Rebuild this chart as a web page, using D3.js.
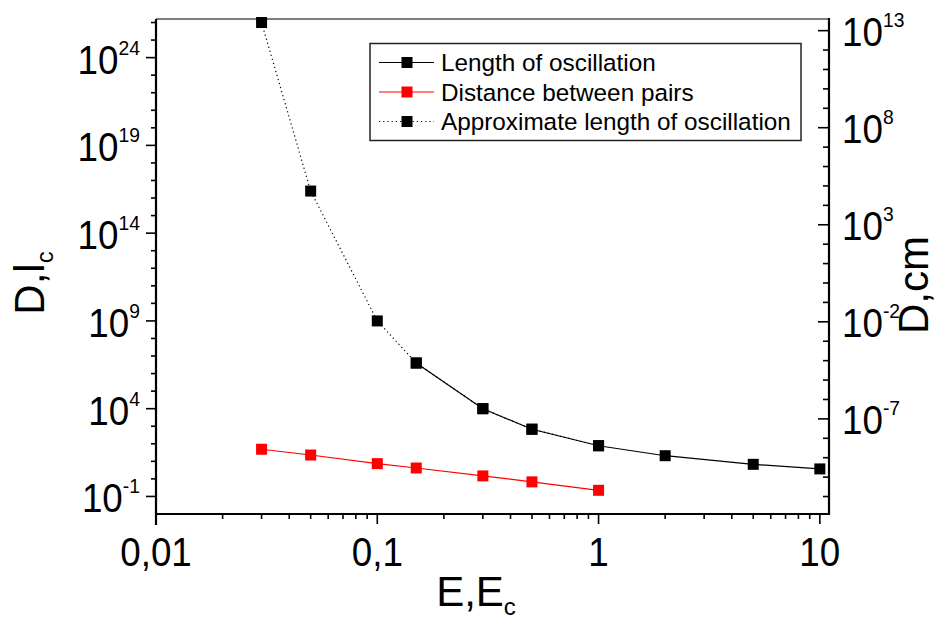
<!DOCTYPE html>
<html>
<head>
<meta charset="utf-8">
<script src="https://cdn.jsdelivr.net/npm/d3@7"></script>
<style>
  html, body { margin: 0; padding: 0; background: #fff; }
  svg text { font-family: Arial, "Liberation Sans", sans-serif; fill: #000; }
</style>
</head>
<body>
<svg id="chart" width="951" height="620"></svg>
<script>
// ---- data ----
const lengthE = [0.15, 0.3, 0.5, 1, 2, 5, 10];
const lengthD = [4.0e6, 1.0e4, 676, 77.6, 20.9, 6.76, 3.7];

const approxE = [0.03, 0.05, 0.1, 0.15, 0.3, 0.5, 1];
const approxD = [1.0e26, 2.5e16, 1.0e9, 4.0e6, 1.0e4, 676, 77.6];

const pairsE = [0.03, 0.05, 0.1, 0.15, 0.3, 0.5, 1];
const pairsD = [49, 22.9, 7.4, 4.17, 1.48, 0.676, 0.224];

const xTickValues = [0.01, 0.1, 1, 10];
const xTickLabels = ["0,01", "0,1", "1", "10"];
const leftTickExps = [-1, 4, 9, 14, 19, 24];
const rightTickExps = [-7, -2, 3, 8, 13];

const legendLabels = ["Length of oscillation", "Distance between pairs", "Approximate length of oscillation"];

// ---- layout ----
const L = 156, R = 829, T = 19, B = 514;
const FS = 40, SUP = 21, TFS = 42, SX = 0.92;
const svg = d3.select("#chart");

const x = d3.scaleLog().domain([0.01, 11]).range([L, R]);
const y = d3.scaleLog().domain([Math.pow(10, -2), Math.pow(10, 26.2)]).range([B, T]);
const y2 = d3.scaleLog().domain([Math.pow(10, -11.9), Math.pow(10, 13.6)]).range([B, T]);

// top border
svg.append("line").attr("x1", L).attr("x2", R).attr("y1", T).attr("y2", T)
  .attr("stroke", "#555").attr("stroke-width", 1.5);

// ---- bottom axis ----
const xMinor = [];
for (let d = -2; d <= 1; d++) for (let k = 1; k <= 9; k++) {
  const v = k * Math.pow(10, d);
  if (v >= 0.01 && v <= 11) xMinor.push(v);
}
const gx = svg.append("g");
gx.selectAll("line.minor").data(xMinor).join("line")
  .attr("x1", d => x(d)).attr("x2", d => x(d))
  .attr("y1", B).attr("y2", d => xTickValues.includes(d) ? B + 10 : B + 5)
  .attr("stroke", "#000").attr("stroke-width", 1.6);
gx.append("line").attr("x1", L - 1).attr("x2", R + 1).attr("y1", B).attr("y2", B)
  .attr("stroke", "#000").attr("stroke-width", 2.2);
gx.selectAll("text").data(xTickValues).join("text")
  .attr("transform", d => `translate(${x(d)},566) scale(${SX},1)`)
  .attr("text-anchor", "middle").attr("font-size", FS)
  .text((d, i) => xTickLabels[i]);

// ---- left axis ----
const gl = svg.append("g");
const leftMinor = d3.range(-1, 27);
gl.selectAll("line").data(leftMinor.filter(e => y(Math.pow(10, e)) >= T && y(Math.pow(10, e)) <= B)).join("line")
  .attr("x1", L).attr("x2", e => leftTickExps.includes(e) ? L - 10 : L - 5)
  .attr("y1", e => y(Math.pow(10, e))).attr("y2", e => y(Math.pow(10, e)))
  .attr("stroke", "#000").attr("stroke-width", 1.6);
gl.append("line").attr("x1", L).attr("x2", L).attr("y1", T).attr("y2", B + 11)
  .attr("stroke", "#000").attr("stroke-width", 2.2);
const lt = gl.selectAll("text").data(leftTickExps).join("text")
  .attr("transform", e => `translate(140,${y(Math.pow(10, e)) + 16}) scale(${SX},1)`)
  .attr("text-anchor", "end");
lt.append("tspan").attr("font-size", FS).text("10");
lt.append("tspan").attr("font-size", SUP).attr("dy", -19).text(e => String(e));

// ---- right axis ----
const gr = svg.append("g");
const rightMinor = d3.range(-11, 14);
gr.selectAll("line").data(rightMinor).join("line")
  .attr("x1", R).attr("x2", e => rightTickExps.includes(e) ? R - 11 : R - 6)
  .attr("y1", e => y2(Math.pow(10, e))).attr("y2", e => y2(Math.pow(10, e)))
  .attr("stroke", "#000").attr("stroke-width", 1.6);
gr.append("line").attr("x1", R).attr("x2", R).attr("y1", T - 1).attr("y2", B + 1)
  .attr("stroke", "#000").attr("stroke-width", 2.2);
const rt = gr.selectAll("text").data(rightTickExps).join("text")
  .attr("transform", e => `translate(842,${y2(Math.pow(10, e)) + 15}) scale(${SX},1)`)
  .attr("text-anchor", "start");
rt.append("tspan").attr("font-size", FS).text("10");
rt.append("tspan").attr("font-size", SUP).attr("dy", -19).text(e => String(e));

// ---- axis titles ----
const xt = svg.append("text").attr("x", 476).attr("y", 606).attr("text-anchor", "middle");
xt.append("tspan").attr("font-size", TFS).text("E,E");
xt.append("tspan").attr("font-size", 24).attr("dy", 9).text("c");

const ylt = svg.append("text").attr("transform", "translate(44,283) rotate(-90)").attr("text-anchor", "middle");
ylt.append("tspan").attr("font-size", TFS).text("D,l");
ylt.append("tspan").attr("font-size", 24).attr("dy", 9).text("c");

svg.append("text").attr("transform", "translate(928,285) rotate(-90)").attr("text-anchor", "middle")
  .attr("font-size", TFS).text("D,cm");

// ---- series ----
const line = d3.line().x(d => x(d[0])).y(d => y(d[1]));
const approxPts = approxE.map((e, i) => [e, approxD[i]]);
const lengthPts = lengthE.map((e, i) => [e, lengthD[i]]);
const pairsPts = pairsE.map((e, i) => [e, pairsD[i]]);

const plot = svg.append("g");
plot.append("path").datum(approxPts).attr("d", line).attr("fill", "none")
  .attr("stroke", "#000").attr("stroke-width", 1.2).attr("stroke-dasharray", "1.2,3");
plot.append("path").datum(lengthPts).attr("d", line).attr("fill", "none")
  .attr("stroke", "#000").attr("stroke-width", 1.2);
plot.append("path").datum(pairsPts).attr("d", line).attr("fill", "none")
  .attr("stroke", "#ff0000").attr("stroke-width", 1.2);

const S = 11;
function markers(pts, color) {
  plot.append("g").selectAll("rect").data(pts).join("rect")
    .attr("x", d => x(d[0]) - S / 2).attr("y", d => y(d[1]) - S / 2)
    .attr("width", S).attr("height", S).attr("fill", color);
}
markers(approxPts, "#000");
markers(lengthPts, "#000");
markers(pairsPts, "#ff0000");

// ---- legend ----
const lg = svg.append("g");
lg.append("rect").attr("x", 370).attr("y", 43.5).attr("width", 431).attr("height", 97)
  .attr("fill", "#fff").attr("stroke", "#222").attr("stroke-width", 1.5);
const legendStyles = [
  { color: "#000", dash: null },
  { color: "#ff0000", dash: null },
  { color: "#000", dash: "1.2,3" }
];
const rowY = [62.5, 92, 121.5];
legendLabels.forEach((lab, i) => {
  const yy = rowY[i];
  lg.append("line").attr("x1", 379).attr("x2", 434).attr("y1", yy).attr("y2", yy)
    .attr("stroke", legendStyles[i].color).attr("stroke-width", 1.2)
    .attr("stroke-dasharray", legendStyles[i].dash);
  lg.append("rect").attr("x", 407 - S / 2).attr("y", yy - S / 2).attr("width", S).attr("height", S)
    .attr("fill", legendStyles[i].color);
  lg.append("text").attr("x", 441).attr("y", yy + 8.5).attr("font-size", 24.3).text(lab);
});
</script>
</body>
</html>
